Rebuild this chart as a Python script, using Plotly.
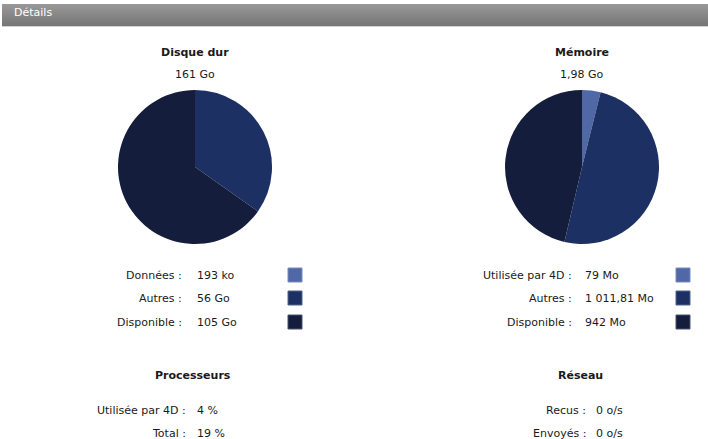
import plotly.graph_objects as go

W, H = 708, 439

# Disk usage
disk_title = "Disque dur"
disk_total = "161 Go"
disk_labels = ["Données", "Autres", "Disponible"]
disk_text = ["193 ko", "56 Go", "105 Go"]
disk_values_go = [193 / 1024 ** 2, 56, 105]

# Memory usage
mem_title = "Mémoire"
mem_total = "1,98 Go"
mem_labels = ["Utilisée par 4D", "Autres", "Disponible"]
mem_text = ["79 Mo", "1 011,81 Mo", "942 Mo"]
mem_values_mo = [79, 1011.81, 942]

# Processor and network counters
cpu_title = "Processeurs"
cpu_labels = ["Utilisée par 4D", "Total"]
cpu_text = ["4 %", "19 %"]
net_title = "Réseau"
net_labels = ["Recus", "Envoyés"]
net_text = ["0 o/s", "0 o/s"]

header_title = "Détails"

slice_colors = ["#5068a6", "#1d3063", "#141d3b"]
square_borders = ["#7a8cbc", "#53628c", "#4a5270"]
FONT = "DejaVu Sans"
TEXT_COLOR = "#1a1a1a"


def px(x):
    return x / W


def py(y):
    return 1 - y / H


fig = go.Figure()

# Two pies, placed in square pixel domains
for cx, cy, r, labels, vals in [
    (195, 167, 77, disk_labels, disk_values_go),
    (582, 167, 77, mem_labels, mem_values_mo),
]:
    fig.add_trace(go.Pie(
        labels=labels, values=vals, sort=False, direction="clockwise",
        rotation=0, textinfo="none", hoverinfo="label+percent",
        marker=dict(colors=slice_colors, line=dict(width=0)),
        domain=dict(x=[px(cx - r), px(cx + r)], y=[py(cy + r), py(cy - r)]),
        showlegend=False,
    ))

annotations = []
shapes = []


def text(x, y, s, anchor="center", bold=False, color=TEXT_COLOR, size=11):
    annotations.append(dict(
        x=px(x), y=py(y), xref="paper", yref="paper", text=f"<b>{s}</b>" if bold else s,
        showarrow=False, xanchor=anchor, yanchor="middle",
        font=dict(family=FONT, size=size, color=color),
    ))


# Header bar drawn as a vertical gradient of thin bands
top, bottom = 4, 26
steps = bottom - top
c0, c1 = (0x98, 0x98, 0x98), (0x76, 0x76, 0x76)
for i in range(steps):
    t = i / (steps - 1)
    col = tuple(round(a + (b - a) * t) for a, b in zip(c0, c1))
    shapes.append(dict(
        type="rect", xref="paper", yref="paper", layer="below",
        x0=px(2), x1=1, y0=py(top + i + 1), y1=py(top + i),
        fillcolor="rgb(%d,%d,%d)" % col, line=dict(width=0),
    ))
shapes.append(dict(
    type="rect", xref="paper", yref="paper", layer="below",
    x0=px(2), x1=1, y0=py(bottom + 1), y1=py(bottom),
    fillcolor="#d4d4d4", line=dict(width=0),
))
text(12, 13, header_title, anchor="left", color="#ffffff")

# Pie titles and totals
text(195, 52, disk_title, bold=True)
text(195, 75, disk_total)
text(582, 52, mem_title, bold=True)
text(582, 75, mem_total)

# Legends with colour squares
rows_y = [275, 298, 322]
for lab_x, val_x, sq_x, labels, vals in [
    (184, 195, 288, disk_labels, disk_text),
    (574, 583, 676, mem_labels, mem_text),
]:
    for i, (lab, v) in enumerate(zip(labels, vals)):
        y = rows_y[i]
        text(lab_x, y, lab + " :", anchor="right")
        text(val_x, y, v, anchor="left")
        shapes.append(dict(
            type="rect", xref="paper", yref="paper",
            x0=px(sq_x), x1=px(sq_x + 14), y0=py(y + 7), y1=py(y - 7),
            fillcolor=slice_colors[i], line=dict(color=square_borders[i], width=1),
        ))

# Processor and network blocks
text(193, 375, cpu_title, bold=True)
text(580, 375, net_title, bold=True)
stat_rows = [410, 433]
for lab_x, val_x, labels, vals in [
    (188, 195, cpu_labels, cpu_text),
    (588, 594, net_labels, net_text),
]:
    for y, lab, v in zip(stat_rows, labels, vals):
        text(lab_x, y, lab + " :", anchor="right")
        text(val_x, y, v, anchor="left")

fig.update_layout(
    width=W, height=H, margin=dict(l=0, r=0, t=0, b=0),
    paper_bgcolor="#ffffff", plot_bgcolor="#ffffff",
    annotations=annotations, shapes=shapes,
)

fig.write_html("out.html")
